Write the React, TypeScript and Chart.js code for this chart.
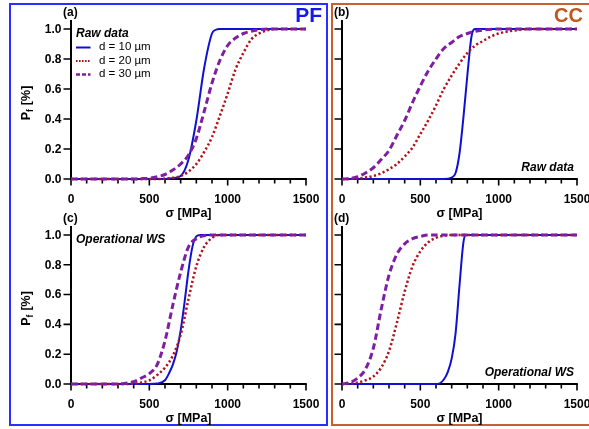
import React, { useEffect, useRef } from 'react';
import { Chart, registerables } from 'chart.js';

Chart.register(...registerables);

type Pt = [number, number];

// ---- Data (σ [MPa], P_f) ----
// (a) PF, raw data
const pfRaw10: Pt[] = [[0, 0], [600, 0], [650, 0.005], [700, 0.02], [750, 0.13], [800, 0.39], [850, 0.74], [900, 0.97], [925, 0.995], [950, 1], [1500, 1]];
const pfRaw20: Pt[] = [[0, 0], [550, 0], [600, 0.003], [650, 0.008], [700, 0.02], [750, 0.05], [800, 0.1], [850, 0.18], [900, 0.28], [950, 0.42], [1000, 0.57], [1050, 0.73], [1100, 0.84], [1150, 0.93], [1200, 0.97], [1250, 0.99], [1300, 1], [1500, 1]];
const pfRaw30: Pt[] = [[0, 0], [400, 0], [450, 0.002], [500, 0.005], [550, 0.015], [600, 0.03], [650, 0.06], [700, 0.1], [750, 0.16], [800, 0.27], [850, 0.45], [900, 0.64], [950, 0.79], [1000, 0.89], [1050, 0.94], [1100, 0.97], [1150, 0.985], [1200, 0.995], [1250, 1], [1500, 1]];
// (b) CC, raw data
const ccRaw10: Pt[] = [[0, 0], [650, 0], [700, 0.01], [725, 0.04], [750, 0.17], [775, 0.41], [800, 0.69], [825, 0.94], [840, 0.995], [850, 1], [1500, 1]];
const ccRaw20: Pt[] = [[0, 0], [50, 0.001], [100, 0.003], [150, 0.01], [200, 0.02], [250, 0.038], [300, 0.065], [350, 0.1], [400, 0.15], [450, 0.21], [500, 0.3], [550, 0.39], [600, 0.49], [650, 0.6], [700, 0.69], [750, 0.77], [800, 0.84], [850, 0.89], [900, 0.92], [950, 0.95], [1000, 0.97], [1100, 0.99], [1200, 1], [1500, 1]];
const ccRaw30: Pt[] = [[0, 0], [50, 0.003], [100, 0.015], [150, 0.04], [200, 0.075], [250, 0.13], [300, 0.19], [350, 0.29], [400, 0.39], [450, 0.51], [500, 0.62], [550, 0.72], [600, 0.8], [650, 0.87], [700, 0.91], [750, 0.95], [800, 0.97], [850, 0.985], [900, 0.993], [1000, 1], [1500, 1]];
// (c) PF, operational WS
const pfOp10: Pt[] = [[0, 0], [500, 0], [550, 0.003], [600, 0.025], [625, 0.07], [650, 0.13], [675, 0.22], [700, 0.36], [725, 0.55], [750, 0.76], [775, 0.92], [800, 0.99], [825, 1], [1500, 1]];
const pfOp20: Pt[] = [[0, 0], [350, 0], [400, 0.003], [450, 0.01], [500, 0.025], [550, 0.06], [600, 0.11], [650, 0.19], [700, 0.33], [750, 0.57], [800, 0.79], [850, 0.92], [900, 0.98], [950, 1], [1500, 1]];
const pfOp30: Pt[] = [[0, 0], [300, 0], [350, 0.005], [400, 0.015], [450, 0.04], [500, 0.07], [550, 0.13], [600, 0.29], [650, 0.53], [700, 0.75], [750, 0.92], [800, 0.975], [850, 0.995], [900, 1], [1500, 1]];
// (d) CC, operational WS
const ccOp10: Pt[] = [[0, 0], [600, 0], [625, 0.005], [650, 0.03], [675, 0.08], [700, 0.17], [725, 0.34], [750, 0.66], [775, 0.95], [790, 1], [1500, 1]];
const ccOp20: Pt[] = [[0, 0], [50, 0.002], [100, 0.01], [150, 0.025], [200, 0.05], [250, 0.11], [300, 0.22], [350, 0.41], [400, 0.62], [450, 0.79], [500, 0.89], [550, 0.95], [600, 0.98], [650, 0.995], [700, 1], [1500, 1]];
const ccOp30: Pt[] = [[0, 0], [50, 0.01], [100, 0.04], [150, 0.1], [200, 0.24], [250, 0.5], [300, 0.73], [350, 0.87], [400, 0.94], [450, 0.975], [500, 0.99], [550, 1], [1500, 1]];

const seriesLabels = ['d = 10 µm', 'd = 20 µm', 'd = 30 µm'];
const xMin = 0;
const xMax = 1500;
const xMinorStep = 100;
const xTickValues = [0, 500, 1000, 1500];
const yTickValues = [0, 0.2, 0.4, 0.6, 0.8, 1.0];
const yTickLabels = ['0.0', '0.2', '0.4', '0.6', '0.8', '1.0'];
const yMax = 1.06;

const FONT = "'Liberation Sans', Arial, Helvetica, sans-serif";
const COLORS = ['#1010d0', '#b0121a', '#7e1fa3'];
const WIDTHS = [2, 2.5, 3];
const DASHES: number[][] = [[], [2.2, 2.4], [6.5, 3.5]];
const ORDERS = [3, 2, 1];

interface PanelCfg {
  id: string;
  letter: string;
  series: Pt[][];
  pad: { left: number; right: number; top: number; bottom: number };
  showYLabels: boolean;
  note: string;
  noteAtBottomRight: boolean;
  legend: boolean;
  badge?: { text: string; color: string; size: number; right: number; y: number };
}

const panels: PanelCfg[] = [
  { id: 'a', letter: '(a)', series: [pfRaw10, pfRaw20, pfRaw30], pad: { left: 71, right: 283, top: 20, bottom: 250 }, showYLabels: true, note: 'Raw data', noteAtBottomRight: false, legend: true, badge: { text: 'PF', color: '#1616ee', size: 21, right: 322, y: 16 } },
  { id: 'b', letter: '(b)', series: [ccRaw10, ccRaw20, ccRaw30], pad: { left: 342, right: 12, top: 20, bottom: 250 }, showYLabels: false, note: 'Raw data', noteAtBottomRight: true, legend: false, badge: { text: 'CC', color: '#c0571f', size: 20, right: 583, y: 16 } },
  { id: 'c', letter: '(c)', series: [pfOp10, pfOp20, pfOp30], pad: { left: 71, right: 283, top: 226, bottom: 45 }, showYLabels: true, note: 'Operational WS', noteAtBottomRight: false, legend: false },
  { id: 'd', letter: '(d)', series: [ccOp10, ccOp20, ccOp30], pad: { left: 342, right: 12, top: 226, bottom: 45 }, showYLabels: false, note: 'Operational WS', noteAtBottomRight: true, legend: false },
];

function makeDecor(cfg: PanelCfg) {
  return {
    id: 'decor' + cfg.id,
    beforeDatasetsDraw(chart: any) {
      const { ctx, scales } = chart;
      const xs = scales.x;
      const ys = scales.y;
      const x0 = xs.getPixelForValue(xMin);
      const x1 = xs.getPixelForValue(xMax);
      const y0 = ys.getPixelForValue(0);
      const yTop = ys.getPixelForValue(yMax);
      ctx.save();
      ctx.strokeStyle = '#000';
      ctx.fillStyle = '#000';
      // ticks
      ctx.lineWidth = 1.6;
      ctx.beginPath();
      for (let v = xMin; v <= xMax; v += xMinorStep) {
        const px = xs.getPixelForValue(v);
        const major = xTickValues.includes(v);
        ctx.moveTo(px, y0);
        ctx.lineTo(px, y0 + (major ? 6.5 : 4.5));
      }
      for (const v of yTickValues) {
        const py = ys.getPixelForValue(v);
        ctx.moveTo(x0, py);
        ctx.lineTo(x0 - 7.5, py);
      }
      ctx.stroke();
      // axis lines
      ctx.lineWidth = 2;
      ctx.beginPath();
      ctx.moveTo(x0, yTop);
      ctx.lineTo(x0, y0);
      ctx.moveTo(x0 - 1, y0);
      ctx.lineTo(x1 + 0.8, y0);
      ctx.stroke();
      // x tick labels
      ctx.font = `bold 12px ${FONT}`;
      ctx.textAlign = 'center';
      ctx.textBaseline = 'middle';
      for (const v of xTickValues) {
        ctx.fillText(String(v), xs.getPixelForValue(v), y0 + 21);
      }
      // y tick labels
      if (cfg.showYLabels) {
        ctx.textAlign = 'right';
        yTickValues.forEach((v, i) => {
          ctx.fillText(yTickLabels[i], x0 - 9.5, ys.getPixelForValue(v) + 0.5);
        });
      }
      // x title
      ctx.textAlign = 'center';
      ctx.font = `bold 12.5px ${FONT}`;
      ctx.fillText('σ [MPa]', (x0 + x1) / 2, y0 + 34.5);
      // y title with subscript
      if (cfg.showYLabels) {
        ctx.save();
        const cy = ys.getPixelForValue(0.5) - 1;
        ctx.translate(x0 - 44, cy);
        ctx.rotate(-Math.PI / 2);
        ctx.textAlign = 'left';
        ctx.textBaseline = 'middle';
        const mainFont = `bold 12.5px ${FONT}`;
        const subFont = `bold 8.5px ${FONT}`;
        ctx.font = mainFont;
        const wP = ctx.measureText('P').width;
        const wRest = ctx.measureText(' [%]').width;
        ctx.font = subFont;
        const wf = ctx.measureText('f').width;
        const total = wP + wf + 0.5 + wRest;
        let cx = -total / 2;
        ctx.font = mainFont;
        ctx.fillText('P', cx, 0);
        cx += wP;
        ctx.font = subFont;
        ctx.fillText('f', cx, 3.5);
        cx += wf + 0.5;
        ctx.font = mainFont;
        ctx.fillText(' [%]', cx, 0);
        ctx.restore();
      }
      // panel letter
      ctx.font = `bold 12px ${FONT}`;
      ctx.textAlign = 'left';
      ctx.textBaseline = 'middle';
      ctx.fillText(cfg.letter, x0 - 8, yTop - 7);
      // note
      ctx.font = `italic bold 12px ${FONT}`;
      if (cfg.noteAtBottomRight) {
        ctx.textAlign = 'right';
        ctx.fillText(cfg.note, x1 - 3, y0 - 11.5);
      } else {
        ctx.textAlign = 'left';
        ctx.fillText(cfg.note, x0 + 5, ys.getPixelForValue(1) + 4.5);
      }
      // legend
      if (cfg.legend) {
        const ly0 = ys.getPixelForValue(1) + 18.5;
        seriesLabels.forEach((lab, i) => {
          const ly = ly0 + i * 13.5;
          ctx.save();
          ctx.strokeStyle = COLORS[i];
          ctx.lineWidth = i === 2 ? 2.5 : 2;
          ctx.setLineDash(i === 0 ? [] : i === 1 ? [1.6, 1.4] : [4, 2]);
          ctx.beginPath();
          ctx.moveTo(x0 + 5, ly);
          ctx.lineTo(x0 + 19.5, ly);
          ctx.stroke();
          ctx.restore();
          ctx.font = `11.5px ${FONT}`;
          ctx.textAlign = 'left';
          ctx.fillStyle = '#000';
          ctx.fillText(lab, x0 + 28, ly - 0.5);
        });
      }
      // badge
      if (cfg.badge) {
        ctx.font = `bold ${cfg.badge.size}px ${FONT}`;
        ctx.fillStyle = cfg.badge.color;
        ctx.textAlign = 'right';
        ctx.fillText(cfg.badge.text, cfg.badge.right, cfg.badge.y);
      }
      ctx.restore();
    },
  };
}

function Panel({ cfg }: { cfg: PanelCfg }) {
  const ref = useRef<HTMLCanvasElement | null>(null);
  useEffect(() => {
    if (!ref.current) return;
    const chart = new Chart(ref.current, {
      type: 'line',
      data: {
        datasets: cfg.series.map((pts, i) => ({
          label: seriesLabels[i],
          data: pts.map(([x, y]) => ({ x, y })),
          borderColor: COLORS[i],
          borderWidth: WIDTHS[i],
          borderDash: DASHES[i],
          pointRadius: 0,
          fill: false,
          cubicInterpolationMode: 'monotone' as const,
          clip: false as any,
          order: ORDERS[i],
        })),
      },
      options: {
        animation: false,
        responsive: false,
        maintainAspectRatio: false,
        events: [],
        layout: { padding: cfg.pad },
        scales: {
          x: { type: 'linear', min: xMin, max: xMax, display: false },
          y: { type: 'linear', min: 0, max: yMax, display: false },
        },
        plugins: { legend: { display: false }, tooltip: { enabled: false }, title: { display: false } },
      },
      plugins: [makeDecor(cfg)],
    } as any);
    return () => chart.destroy();
  }, [cfg]);
  return (
    <canvas
      ref={ref}
      width={589}
      height={429}
      style={{ position: 'fixed', left: 0, top: 0, width: 589, height: 429 }}
    />
  );
}

export default function App() {
  return (
    <div style={{ position: 'fixed', left: 0, top: 0, width: 589, height: 429, background: '#fff', overflow: 'hidden' }}>
      <div style={{ position: 'absolute', left: 9, top: 3, width: 319, height: 423, border: '2px solid #2d2dff', boxSizing: 'border-box' }} />
      <div style={{ position: 'absolute', left: 331, top: 3, width: 270, height: 423, border: '2px solid #c6622e', boxSizing: 'border-box' }} />
      {panels.map((p) => (
        <Panel key={p.id} cfg={p} />
      ))}
    </div>
  );
}
